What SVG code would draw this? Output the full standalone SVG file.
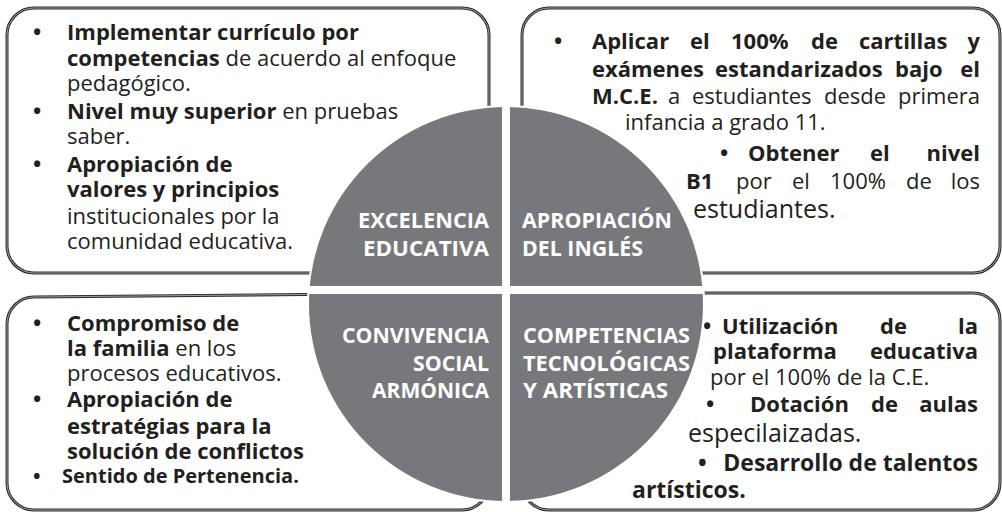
<svg xmlns="http://www.w3.org/2000/svg" width="1002" height="512" viewBox="0 0 1002 512">
<style>
.box{fill:#fff;stroke:#2e2e2e;stroke-width:3}
.boxin{fill:none;stroke:#a8a8a8;stroke-width:0.9}
text{font-family:"Open Sans","Noto Sans","Liberation Sans",sans-serif;fill:#231f20}
.t{font-size:22px}
.b{font-weight:bold}
.big{font-size:25px}
.m{font-size:23px}
.s{font-size:20px}
.q{fill:#77787c}
.lab{font-size:22px;font-weight:bold;fill:#fff}
</style>
<defs>
<clipPath id="disc"><circle cx="506" cy="304" r="197"/></clipPath>
</defs>
<rect width="1002" height="512" fill="#fff"/>

<g id="box-excelencia">
<rect class="box" x="7" y="8" width="482" height="265" rx="27"/>
<rect class="boxin" x="7" y="8" width="482" height="265" rx="27"/>
<text class="t b" x="33" y="40">•</text>
<text class="t b" x="67" y="40">Implementar currículo por</text>
<text class="t" x="67" y="66"><tspan class="b">competencias</tspan> de acuerdo al enfoque</text>
<text class="t" x="67" y="91">pedagógico.</text>
<text class="t b" x="33" y="119">•</text>
<text class="t" x="67" y="119"><tspan class="b">Nivel muy superior</tspan> en pruebas</text>
<text class="t" x="67" y="144">saber.</text>
<text class="t b" x="33" y="172">•</text>
<text class="t b" x="67" y="172">Apropiación de</text>
<text class="t b" x="67" y="197">valores y principios</text>
<text class="t" x="67" y="224">institucionales por la</text>
<text class="t" x="67" y="249">comunidad educativa.</text>
</g>

<g id="box-ingles">
<rect class="box" x="522" y="8" width="478" height="265" rx="27"/>
<rect class="boxin" x="522" y="8" width="478" height="265" rx="27"/>
<g class="t b">
<text x="554" y="49">•</text>
<text x="592" y="49">Aplicar</text>
<text x="690" y="49">el</text>
<text x="731" y="49">100%</text>
<text x="811" y="49">de</text>
<text x="859" y="49">cartillas</text>
<text x="980" y="49" text-anchor="end">y</text>
<text x="592" y="77">exámenes</text>
<text x="715" y="77">estandarizados</text>
<text x="895" y="77">bajo</text>
<text x="980" y="77" text-anchor="end">el</text>
<text x="592" y="104">M.C.E.</text>
</g>
<g class="t">
<text x="668" y="104">a</text>
<text x="692" y="104">estudiantes</text>
<text x="824" y="104">desde</text>
<text x="980" y="104" text-anchor="end">primera</text>
<text x="625" y="130">infancia a grado 11.</text>
</g>
<g class="t b">
<text x="720" y="161">•</text>
<text x="748" y="161">Obtener</text>
<text x="870" y="161">el</text>
<text x="980" y="161" text-anchor="end">nivel</text>
<text x="686" y="189">B1</text>
</g>
<g class="t">
<text x="736" y="189">por</text>
<text x="792" y="189">el</text>
<text x="830" y="189">100%</text>
<text x="906" y="189">de</text>
<text x="980" y="189" text-anchor="end">los</text>
</g>
<text class="big" x="693" y="218">estudiantes.</text>
</g>

<g id="box-convivencia">
<path class="box" d="M7,324 A27,27 0 0 1 34,297 L462,293 A27,27 0 0 1 489,320 V483 A27,27 0 0 1 462,510 H34 A27,27 0 0 1 7,483 Z"/>
<path class="boxin" d="M7,324 A27,27 0 0 1 34,297 L462,293 A27,27 0 0 1 489,320 V483 A27,27 0 0 1 462,510 H34 A27,27 0 0 1 7,483 Z"/>
<text class="t b" x="33" y="331">•</text>
<text class="t b" x="67" y="331">Compromiso de</text>
<text class="t" x="67" y="356"><tspan class="b">la familia</tspan> en los</text>
<text class="t" x="67" y="381">procesos educativos.</text>
<text class="t b" x="33" y="407">•</text>
<text class="t b" x="67" y="407">Apropiación de</text>
<text class="t b" x="67" y="434">estratégias para la</text>
<text class="t b" x="67" y="459">solución de conflictos</text>
<text class="s b" x="33" y="483">•</text>
<text class="s b" x="62" y="483">Sentido de Pertenencia.</text>
</g>

<g id="box-competencias">
<rect class="box" x="522" y="293" width="478" height="217" rx="27"/>
<rect class="boxin" x="522" y="293" width="478" height="217" rx="27"/>
<g class="t b">
<text x="703" y="334">•</text>
<text x="722" y="334">Utilización</text>
<text x="880" y="334">de</text>
<text x="978" y="334" text-anchor="end">la</text>
<text x="713" y="359">plataforma</text>
<text x="978" y="359" text-anchor="end">educativa</text>
</g>
<text class="t" x="710" y="385">por el 100% de la C.E.</text>
<g class="t b">
<text x="706" y="412">•</text>
<text x="750" y="412">Dotación</text>
<text x="871" y="412">de</text>
<text x="978" y="412" text-anchor="end">aulas</text>
</g>
<text class="big" x="688" y="442">especilaizadas.</text>
<text class="m b" x="698" y="471">•</text>
<text class="m b" x="978" y="471" text-anchor="end">Desarrollo de talentos</text>
<text class="m b" x="632" y="498">artísticos.</text>
</g>

<g id="center-disc">
<circle cx="506" cy="304" r="199" fill="#fff"/>
<g clip-path="url(#disc)">
<rect id="q-excelencia" class="q" x="300" y="100" width="202" height="186"/>
<rect id="q-ingles" class="q" x="510" y="100" width="200" height="186"/>
<rect id="q-convivencia" class="q" x="300" y="294" width="202" height="215"/>
<rect id="q-competencias" class="q" x="510" y="294" width="200" height="215"/>
</g>
<text class="lab" x="358" y="228" textLength="131" lengthAdjust="spacingAndGlyphs">EXCELENCIA</text>
<text class="lab" x="363" y="256" textLength="126" lengthAdjust="spacingAndGlyphs">EDUCATIVA</text>
<text class="lab" x="522" y="228" textLength="150" lengthAdjust="spacingAndGlyphs">APROPIACIÓN</text>
<text class="lab" x="522" y="256" textLength="121" lengthAdjust="spacingAndGlyphs">DEL INGLÉS</text>
<text class="lab" x="342" y="343" textLength="147" lengthAdjust="spacingAndGlyphs">CONVIVENCIA</text>
<text class="lab" x="413" y="371" textLength="76" lengthAdjust="spacingAndGlyphs">SOCIAL</text>
<text class="lab" x="372" y="398" textLength="117" lengthAdjust="spacingAndGlyphs">ARMÓNICA</text>
<text class="lab" x="523" y="343" textLength="167" lengthAdjust="spacingAndGlyphs">COMPETENCIAS</text>
<text class="lab" x="523" y="371" textLength="167" lengthAdjust="spacingAndGlyphs">TECNOLÓGICAS</text>
<text class="lab" x="523" y="398" textLength="145" lengthAdjust="spacingAndGlyphs">Y ARTÍSTICAS</text>
</g>

<g id="connectors"/>
</svg>
